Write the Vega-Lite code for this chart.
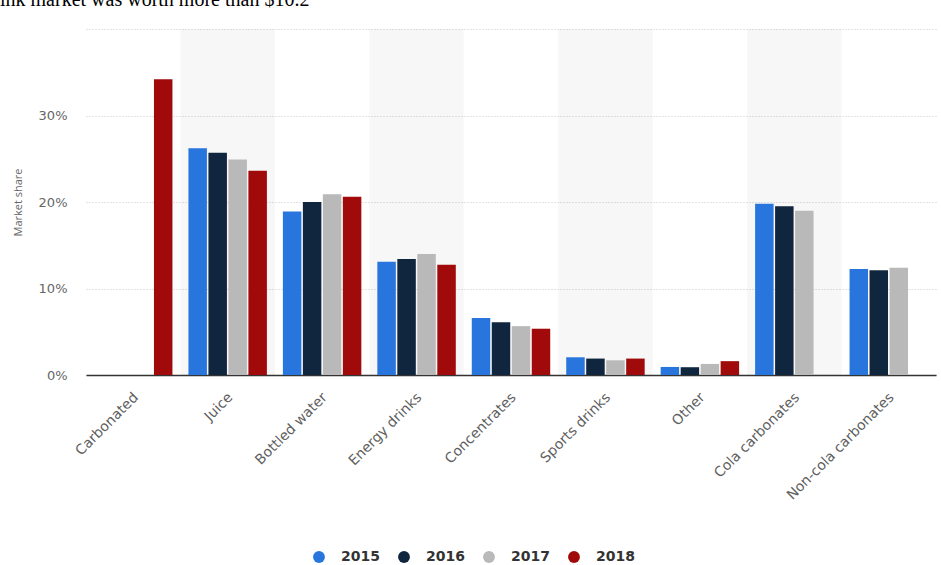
{
  "$schema": "https://vega.github.io/schema/vega-lite/v6.json",
  "width": 850,
  "height": 346,
  "autosize": {"type": "none"},
  "padding": {"left": 86, "top": 29, "right": 5, "bottom": 190},
  "background": "white",
  "title": {
    "text": "ink market was worth more than $10.2",
    "anchor": "start",
    "frame": "group",
    "dx": -86,
    "offset": 3,
    "baseline": "alphabetic",
    "font": "Liberation Serif",
    "fontSize": 20,
    "fontWeight": "normal",
    "color": "#000000"
  },
  "config": {
    "view": {"stroke": null},
    "font": "Open Sans"
  },
  "encoding": {
    "x": {
      "field": "category",
      "type": "nominal",
      "title": null,
      "scale": {
        "domain": ["Carbonated", "Juice", "Bottled water", "Energy drinks", "Concentrates", "Sports drinks", "Other", "Cola carbonates", "Non-cola carbonates"],
        "paddingInner": 0,
        "paddingOuter": 0
      },
      "axis": {
        "labelAngle": -45,
        "labelAlign": "right",
        "labelBaseline": "top",
        "labelPadding": 15,
        "labelOffset": -2,
        "labelFontSize": 14,
        "labelColor": "#5f5f5f",
        "labelFont": "DejaVu Sans",
        "ticks": false,
        "domainColor": "#333333",
        "domainWidth": 1.5,
        "grid": false
      }
    }
  },
  "layer": [
    {
      "data": {"values": [
        {"category": "Juice"},
        {"category": "Energy drinks"},
        {"category": "Sports drinks"},
        {"category": "Cola carbonates"}
      ]},
      "mark": {"type": "bar", "color": "#000000", "opacity": 0.03},
      "encoding": {
        "y": {"datum": 40, "type": "quantitative", "title": "Market share"},
        "y2": {"datum": 0}
      }
    },
    {
      "data": {"values": [
        {"category": "Carbonated", "year": "2018", "share": 34.2},
        {"category": "Juice", "year": "2015", "share": 26.2},
        {"category": "Juice", "year": "2016", "share": 25.7},
        {"category": "Juice", "year": "2017", "share": 24.9},
        {"category": "Juice", "year": "2018", "share": 23.6},
        {"category": "Bottled water", "year": "2015", "share": 18.9},
        {"category": "Bottled water", "year": "2016", "share": 20.0},
        {"category": "Bottled water", "year": "2017", "share": 20.9},
        {"category": "Bottled water", "year": "2018", "share": 20.6},
        {"category": "Energy drinks", "year": "2015", "share": 13.1},
        {"category": "Energy drinks", "year": "2016", "share": 13.4},
        {"category": "Energy drinks", "year": "2017", "share": 14.0},
        {"category": "Energy drinks", "year": "2018", "share": 12.75},
        {"category": "Concentrates", "year": "2015", "share": 6.6},
        {"category": "Concentrates", "year": "2016", "share": 6.1},
        {"category": "Concentrates", "year": "2017", "share": 5.65},
        {"category": "Concentrates", "year": "2018", "share": 5.35},
        {"category": "Sports drinks", "year": "2015", "share": 2.05},
        {"category": "Sports drinks", "year": "2016", "share": 1.9},
        {"category": "Sports drinks", "year": "2017", "share": 1.7},
        {"category": "Sports drinks", "year": "2018", "share": 1.9},
        {"category": "Other", "year": "2015", "share": 0.93},
        {"category": "Other", "year": "2016", "share": 0.9},
        {"category": "Other", "year": "2017", "share": 1.28},
        {"category": "Other", "year": "2018", "share": 1.6},
        {"category": "Cola carbonates", "year": "2015", "share": 19.8},
        {"category": "Cola carbonates", "year": "2016", "share": 19.5},
        {"category": "Cola carbonates", "year": "2017", "share": 19.0},
        {"category": "Non-cola carbonates", "year": "2015", "share": 12.25},
        {"category": "Non-cola carbonates", "year": "2016", "share": 12.1},
        {"category": "Non-cola carbonates", "year": "2017", "share": 12.4}
      ]},
      "mark": {"type": "bar"},
      "encoding": {
        "xOffset": {
          "field": "year",
          "type": "nominal",
          "scale": {"domain": ["2015", "2016", "2017", "2018"], "paddingInner": 0.075, "paddingOuter": 0.4}
        },
        "y": {
          "field": "share",
          "type": "quantitative",
          "title": "Market share",
          "scale": {"domain": [0, 40], "nice": false},
          "axis": {
            "values": [0, 10, 20, 30, 40],
            "labelExpr": "datum.value >= 40 ? '' : datum.value + '%'",
            "labelFont": "DejaVu Sans",
            "labelFontSize": 13,
            "labelColor": "#666666",
            "labelPadding": 19,
            "ticks": false,
            "domain": false,
            "grid": true,
            "gridColor": "#c8c8c8",
            "gridDash": [1, 2],
            "gridWidth": 1,
            "titleFontSize": 11,
            "titleFontWeight": "normal",
            "titleColor": "#666666",
            "titlePadding": 15
          }
        },
        "color": {
          "field": "year",
          "type": "nominal",
          "scale": {"domain": ["2015", "2016", "2017", "2018"], "range": ["#2876dd", "#10253e", "#b9b9b9", "#a10a0a"]},
          "legend": {
            "orient": "none",
            "direction": "horizontal",
            "legendX": 226,
            "legendY": 521,
            "title": null,
            "symbolType": "circle",
            "symbolSize": 140,
            "symbolStrokeWidth": 0,
            "labelFont": "DejaVu Sans",
            "labelFontSize": 14,
            "labelFontWeight": "bold",
            "labelColor": "#333333",
            "labelOffset": 15,
            "columnPadding": 17
          }
        }
      }
    }
  ]
}
